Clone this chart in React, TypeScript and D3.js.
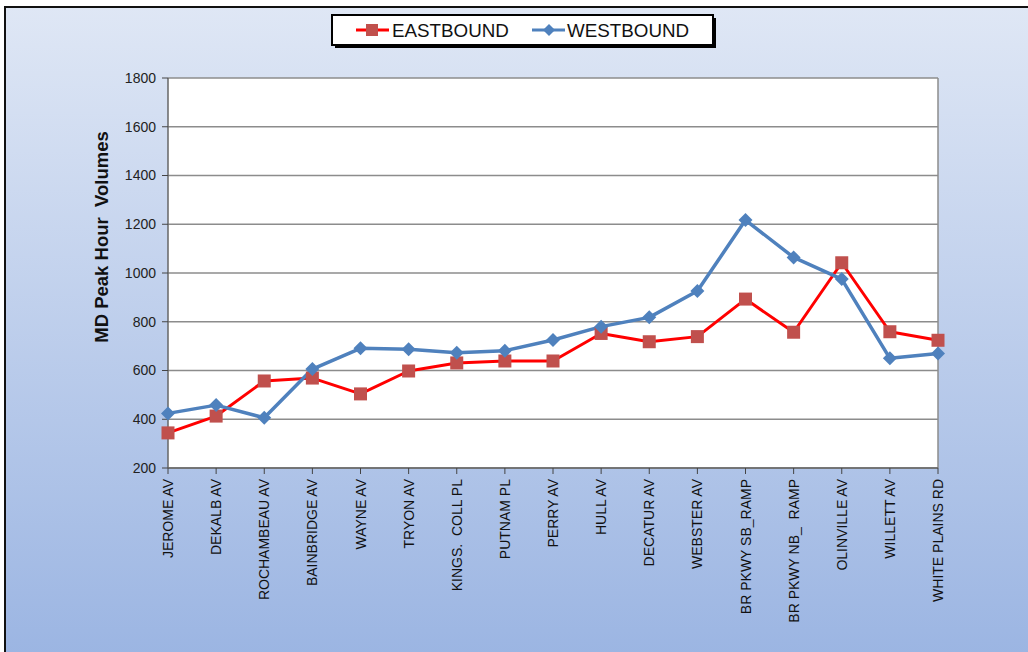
import React from "react";
import * as d3 from "d3";

const categories = [
  "JEROME AV", "DEKALB AV", "ROCHAMBEAU AV", "BAINBRIDGE AV", "WAYNE AV", "TRYON AV",
  "KINGS.  COLL PL", "PUTNAM PL", "PERRY AV", "HULL AV", "DECATUR AV", "WEBSTER AV",
  "BR PKWY SB_RAMP", "BR PKWY NB_  RAMP", "OLINVILLE AV", "WILLETT AV", "WHITE PLAINS RD",
];
const eastbound = [344, 413, 557, 569, 504, 598, 631, 639, 639, 752, 718, 739, 893, 757, 1042, 759, 724];
const westbound = [424, 458, 406, 606, 691, 687, 673, 681, 725, 780, 818, 926, 1217, 1064, 975, 650, 670];
const yTicks = [200, 400, 600, 800, 1000, 1200, 1400, 1600, 1800];
const seriesNames = ["EASTBOUND", "WESTBOUND"];

const W = 1028, H = 652;
const left = 168, right = 938, top = 78, bottom = 468;
const FONT = "'Liberation Sans', Arial, sans-serif";

export default function App() {
  const x = d3.scalePoint<string>().domain(categories).range([left, right]);
  const y = d3.scaleLinear().domain([200, 1800]).range([bottom, top]);
  const line = d3.line<number>().x((_, i) => x(categories[i])!).y((d) => y(d));
  const eastColor = "#FF0000", eastMarker = "#C0504D", westColor = "#4F81BD";
  const diamond = (cx: number, cy: number, r: number) =>
    `M${cx},${cy - r}L${cx + r},${cy}L${cx},${cy + r}L${cx - r},${cy}Z`;

  return (
    <div style={{ position: "fixed", left: 0, top: 0 }}>
      <svg width={W} height={H} style={{ display: "block" }}>
        <defs>
          <linearGradient id="bg" x1="0" y1="0" x2="0" y2="1">
            <stop offset="0%" stopColor="#DFE7F5" />
            <stop offset="100%" stopColor="#9AB4E2" />
          </linearGradient>
        </defs>
        <rect x={0} y={0} width={W} height={H} fill="#fff" />
        <rect x={5} y={7} width={W + 10} height={H + 10} fill="url(#bg)" stroke="#111" strokeWidth={2} />
        {/* plot area */}
        <rect x={left} y={top} width={right - left} height={bottom - top} fill="#fff" />
        {yTicks.map((t) => (
          <line key={t} x1={left} x2={right} y1={y(t)} y2={y(t)} stroke="#8C8C8C" strokeWidth={1.5} />
        ))}
        <line x1={right} x2={right} y1={top} y2={bottom} stroke="#8C8C8C" strokeWidth={1.5} />
        <line x1={left} x2={left} y1={top} y2={bottom} stroke="#666" strokeWidth={1.5} />
        <line x1={left} x2={right} y1={bottom} y2={bottom} stroke="#666" strokeWidth={1.5} />
        {yTicks.map((t) => (
          <g key={"yt" + t}>
            <line x1={left - 6} x2={left} y1={y(t)} y2={y(t)} stroke="#444" strokeWidth={1} />
            <text x={left - 12} y={y(t)} dy="0.35em" textAnchor="end" fontFamily={FONT} fontSize={14} fill="#222">
              {t}
            </text>
          </g>
        ))}
        {categories.map((c) => (
          <g key={"xt" + c}>
            <line x1={x(c)} x2={x(c)} y1={bottom} y2={bottom + 6} stroke="#444" strokeWidth={1} />
            <text
              transform={`translate(${x(c)! + 5},${bottom + 11}) rotate(-90)`}
              textAnchor="end"
              fontFamily={FONT}
              fontSize={14}
              fill="#111"
              style={{ whiteSpace: "pre" }}
            >
              {c}
            </text>
          </g>
        ))}
        <text
          transform={`translate(${108},${237}) rotate(-90)`}
          textAnchor="middle"
          fontFamily={FONT}
          fontSize={18.5}
          fontWeight="bold"
          fill="#111"
          style={{ whiteSpace: "pre" }}
        >
          {"MD Peak Hour  Volumes"}
        </text>
        {/* series */}
        <path d={line(eastbound)!} fill="none" stroke={eastColor} strokeWidth={3} strokeLinejoin="round" />
        <path d={line(westbound)!} fill="none" stroke={westColor} strokeWidth={3.5} strokeLinejoin="round" />
        {eastbound.map((v, i) => (
          <rect key={"e" + i} x={x(categories[i])! - 6.5} y={y(v) - 6.5} width={13} height={13} fill={eastMarker} />
        ))}
        {westbound.map((v, i) => (
          <path key={"w" + i} d={diamond(x(categories[i])!, y(v), 7)} fill={westColor} />
        ))}
        {/* legend */}
        <rect x={335} y={18} width={381} height={30} fill="#000" />
        <rect x={332} y={15} width={381} height={30} fill="#fff" stroke="#000" strokeWidth={2} />
        <line x1={356} x2={389} y1={30} y2={30} stroke={eastColor} strokeWidth={3} />
        <rect x={366} y={24} width={12} height={12} fill={eastMarker} />
        <text x={392} y={30} dy="0.36em" fontFamily={FONT} fontSize={18.8} fill="#111">{seriesNames[0]}</text>
        <line x1={532} x2={565} y1={30} y2={30} stroke={westColor} strokeWidth={3} />
        <path d={diamond(549, 30, 6)} fill={westColor} />
        <text x={567} y={30} dy="0.36em" fontFamily={FONT} fontSize={18.8} fill="#111">{seriesNames[1]}</text>
      </svg>
    </div>
  );
}
